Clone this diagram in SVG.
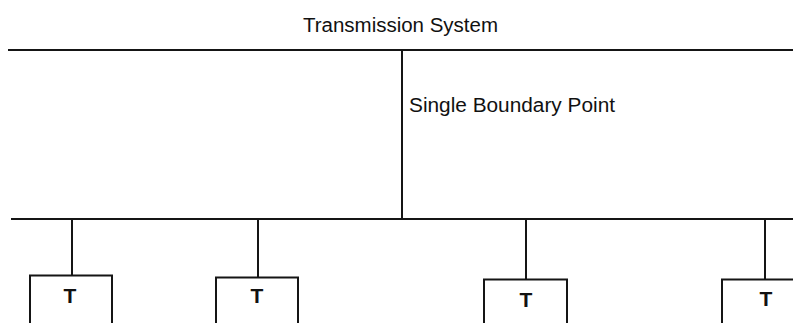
<svg xmlns="http://www.w3.org/2000/svg" width="793" height="323" viewBox="0 0 793 323">
  <style>
    .ln { stroke: #151515; stroke-width: 2; fill: none; }
    .box { stroke: #151515; stroke-width: 2; fill: #ffffff; }
    .lbl { font-family: "Liberation Sans", Arial, sans-serif; font-size: 20px; fill: #111111; }
    .t { font-family: "Liberation Sans", Arial, sans-serif; font-size: 21px; font-weight: bold; fill: #111111; text-anchor: middle; }
  </style>
  <rect width="793" height="323" fill="#ffffff"/>

  <g id="transmission-system">
    <text class="lbl" x="303" y="31.5" textLength="195" lengthAdjust="spacingAndGlyphs">Transmission System</text>
    <line class="ln" x1="8" y1="50" x2="793" y2="50"/>
  </g>

  <g id="distribution-bus">
    <line class="ln" x1="11" y1="219" x2="793" y2="219"/>
  </g>

  <g id="connectors">
    <line class="ln" x1="402" y1="50" x2="402" y2="219"/>
    <line class="ln" x1="72" y1="219" x2="72" y2="276"/>
    <line class="ln" x1="258" y1="219" x2="258" y2="278"/>
    <line class="ln" x1="526" y1="219" x2="526" y2="280"/>
    <line class="ln" x1="765" y1="219" x2="765" y2="280"/>
  </g>

  <g id="boundary-label">
    <text class="lbl" x="409" y="111.5" textLength="206" lengthAdjust="spacingAndGlyphs">Single Boundary Point</text>
  </g>

  <g id="node-t1">
    <rect class="box" x="30" y="275.5" width="82" height="60"/>
    <text class="t" x="70" y="302.5">T</text>
  </g>
  <g id="node-t2">
    <rect class="box" x="216" y="277.5" width="82" height="60"/>
    <text class="t" x="257" y="302.5">T</text>
  </g>
  <g id="node-t3">
    <rect class="box" x="484" y="279.5" width="83" height="60"/>
    <text class="t" x="526" y="306.5">T</text>
  </g>
  <g id="node-t4">
    <rect class="box" x="722" y="279.5" width="90" height="60"/>
    <text class="t" x="766" y="306">T</text>
  </g>
</svg>
